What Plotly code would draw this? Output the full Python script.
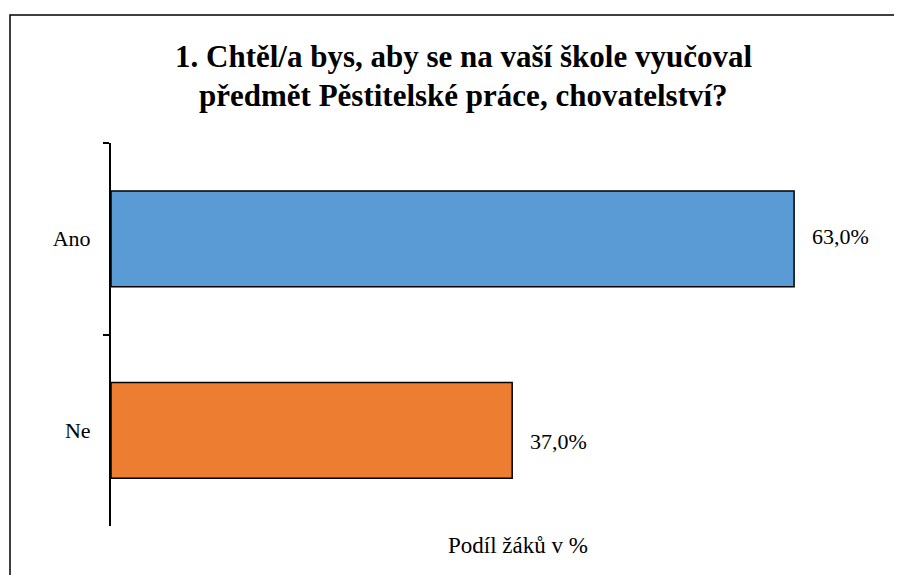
import plotly.graph_objects as go

categories = ["Ano", "Ne"]
values = [63.0, 37.0]
value_labels = ["63,0%", "37,0%"]
colors = ["#5B9BD5", "#ED7D31"]

title_lines = ["1. Chtěl/a bys, aby se na vaší škole vyučoval",
               "předmět Pěstitelské práce, chovatelství?"]
x_title = "Podíl žáků v %"

OFF = 8  # page body margin
W, H = 902 - OFF, 575 - OFF
PL, PR, PT, PB = 111, 870, 143, 526
ML, MR, MT, MB = PL - OFF, W - (PR - OFF), PT - OFF, H - (PB - OFF)
PW, PH = PR - PL, PB - PT

def px_x(p):
    return (p - PL) / PW

def px_y(p):
    return (PB - p) / PH

font = "Liberation Serif, Liberation Sans"

fig = go.Figure()
fig.add_trace(go.Bar(
    x=values, y=categories, orientation="h",
    marker=dict(color=colors, line=dict(color="black", width=1.5)),
    width=0.5, showlegend=False, hoverinfo="skip",
))

label_yshift = [2, -11]
for c, v, t, ys in zip(categories, values, value_labels, label_yshift):
    fig.add_annotation(x=v, y=c, text=t, showarrow=False, xanchor="left",
                       xshift=16, yshift=ys,
                       font=dict(family=font, size=22, color="black"))

fig.add_annotation(xref="paper", yref="paper", x=px_x(518), y=px_y(545),
                   text=x_title, showarrow=False, xanchor="center", yanchor="middle",
                   font=dict(family=font, size=23, color="black"))

for line, ypx in zip(title_lines, [56, 95]):
    fig.add_annotation(xref="paper", yref="paper", x=px_x(463), y=px_y(ypx),
                       text="<b>" + line + "</b>", showarrow=False,
                       xanchor="center", yanchor="middle",
                       font=dict(family=font, size=31, color="black"))

fig.add_shape(type="rect", xref="paper", yref="paper",
              x0=px_x(10), x1=px_x(898), y0=px_y(600), y1=px_y(15),
              line=dict(color="black", width=1.5), fillcolor="rgba(0,0,0,0)", layer="below")

fig.update_layout(
    width=W, height=H,
    margin=dict(l=ML, r=MR, t=MT, b=MB, pad=0),
    paper_bgcolor="white", plot_bgcolor="white",
    font=dict(family=font, size=22, color="black"),
    xaxis=dict(range=[0, 70], showgrid=False, zeroline=False, showline=False,
               showticklabels=False, ticks=""),
    yaxis=dict(categoryorder="array", categoryarray=categories, autorange="reversed",
               showline=True, linecolor="black", linewidth=2,
               ticks="outside", tickson="boundaries", ticklen=6, tickwidth=2, tickcolor="black",
               showgrid=False, zeroline=False, ticklabelstandoff=14,
               tickfont=dict(family=font, size=22, color="black")),
)

fig.write_html("out.html")
